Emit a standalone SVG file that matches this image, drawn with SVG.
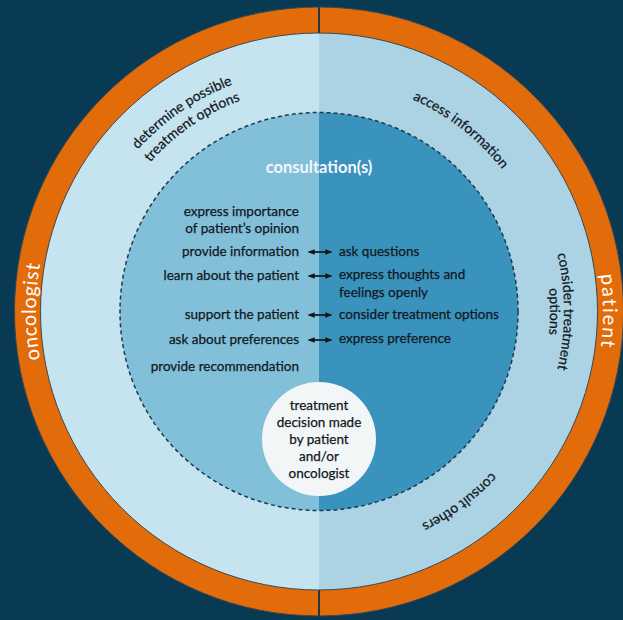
<svg xmlns="http://www.w3.org/2000/svg" width="623" height="620" viewBox="0 0 623 620">
  <style>
    .t { font-family: Lato, "Liberation Sans", sans-serif; font-size: 13.5px; fill: #11181d; stroke: #11181d; stroke-width: 0.25px; }
    .a { font-size: 14px; }
    .l { text-anchor: end; }
    .c { text-anchor: middle; }
    .ring { font-family: Lato, "Liberation Sans", sans-serif; font-size: 20px; letter-spacing: 0.6px; fill: #ffffff; }
    .wide { letter-spacing: 1.8px; }
    .head { font-family: Lato, "Liberation Sans", sans-serif; font-size: 16.5px; font-weight: bold; fill: #f2f8fb; }
    .arrow { stroke: #11181d; stroke-width: 1.7; fill: none; marker-start: url(#ah); marker-end: url(#ah); }
  </style>
  <defs>
    <marker id="ah" viewBox="0 0 10 10" refX="8" refY="5" markerWidth="4.2" markerHeight="4.2" orient="auto-start-reverse" markerUnits="strokeWidth">
      <path d="M0,1 L10,5 L0,9 Z" fill="#11181d"/>
    </marker>
    <path id="p-det1" d="M97.9,412.3 A243,243 0 0 1 492.3,141.2"/>
    <path id="p-det2" d="M114.2,404.8 A225,225 0 0 1 479.5,153.8"/>
    <path id="p-acc" d="M163.8,139.1 A232,232 0 0 1 523.8,420.4"/>
    <path id="p-con1" d="M361.5,70.2 A245,245 0 0 1 361.5,552.8"/>
    <path id="p-con2" d="M359.1,84 A231,231 0 0 1 359.1,539"/>
    <path id="p-cons" d="M530.4,206.6 A236,236 0 0 1 156.3,482.4"/>
    <path id="p-onc" d="M269.9,590.2 A283,283 0 0 1 269.9,32.8"/>
    <path id="p-pat" d="M368.3,31.8 A284,284 0 0 1 368.3,591.2"/>
  </defs>

  <rect id="background" x="0" y="0" width="623" height="620" fill="#093a54"/>

  <g id="outer-ring">
    <circle cx="319" cy="311.5" r="304.5" fill="#e36c0a" stroke="#3c4650" stroke-width="1"/>
    <line x1="319" y1="6" x2="319" y2="34" stroke="#243440" stroke-width="2"/>
    <line x1="319" y1="589" x2="319" y2="617" stroke="#243440" stroke-width="2"/>
  </g>

  <g id="middle-ring">
    <path d="M319,33 A278.5,278.5 0 0 0 319,590 Z" fill="#c6e4f0"/>
    <path d="M319,33 A278.5,278.5 0 0 1 319,590 Z" fill="#acd3e3"/>
    <circle cx="319" cy="311.5" r="278.5" fill="none" stroke="#3c4650" stroke-width="1"/>
  </g>

  <g id="consultation">
    <path d="M319,112.5 A199,199 0 0 0 319,510.5 Z" fill="#82bfd9"/>
    <path d="M319,112.5 A199,199 0 0 1 319,510.5 Z" fill="#3a93bd"/>
    <circle cx="319" cy="311.5" r="199" fill="none" stroke="#1b3a4e" stroke-width="1.5" stroke-dasharray="4 3"/>
    <text class="head c" x="319" y="173">consultation(s)</text>
  </g>

  <g id="label-oncologist">
    <text class="ring"><textPath href="#p-onc" startOffset="50%" text-anchor="middle">oncologist</textPath></text>
  </g>
  <g id="label-patient">
    <text class="ring wide"><textPath href="#p-pat" startOffset="50%" text-anchor="middle">patient</textPath></text>
  </g>

  <g id="determine-options">
    <text class="t a"><textPath href="#p-det1" startOffset="50%" text-anchor="middle">determine possible</textPath></text>
    <text class="t a"><textPath href="#p-det2" startOffset="50%" text-anchor="middle">treatment options</textPath></text>
  </g>
  <g id="access-information">
    <text class="t a"><textPath href="#p-acc" startOffset="50%" text-anchor="middle">access information</textPath></text>
  </g>
  <g id="consider-options">
    <text class="t a"><textPath href="#p-con1" startOffset="50%" text-anchor="middle">consider treatment</textPath></text>
    <text class="t a"><textPath href="#p-con2" startOffset="50%" text-anchor="middle">options</textPath></text>
  </g>
  <g id="consult-others">
    <text class="t a"><textPath href="#p-cons" startOffset="50%" text-anchor="middle">consult others</textPath></text>
  </g>

  <g id="oncologist-actions">
    <text class="t l" x="299" y="216">express importance</text>
    <text class="t l" x="299" y="233">of patient’s opinion</text>
    <text class="t l" x="299" y="256">provide information</text>
    <text class="t l" x="299" y="280">learn about the patient</text>
    <text class="t l" x="299" y="319">support the patient</text>
    <text class="t l" x="299" y="344">ask about preferences</text>
    <text class="t l" x="299" y="371">provide recommendation</text>
  </g>

  <g id="patient-actions">
    <text class="t" x="339" y="256">ask questions</text>
    <text class="t" x="339" y="279">express thoughts and</text>
    <text class="t" x="339" y="297">feelings openly</text>
    <text class="t" x="339" y="319">consider treatment options</text>
    <text class="t" x="339" y="343">express preference</text>
  </g>

  <g id="connectors">
    <line class="arrow" x1="309" y1="252" x2="331" y2="252"/>
    <line class="arrow" x1="309" y1="276" x2="331" y2="276"/>
    <line class="arrow" x1="309" y1="315" x2="331" y2="315"/>
    <line class="arrow" x1="309" y1="340" x2="331" y2="340"/>
  </g>

  <g id="decision">
    <circle cx="319" cy="439" r="57" fill="#f3f6f7"/>
    <text class="t c" x="319" y="410">treatment</text>
    <text class="t c" x="319" y="427">decision made</text>
    <text class="t c" x="319" y="444">by patient</text>
    <text class="t c" x="319" y="461">and/or</text>
    <text class="t c" x="319" y="478">oncologist</text>
  </g>
</svg>
